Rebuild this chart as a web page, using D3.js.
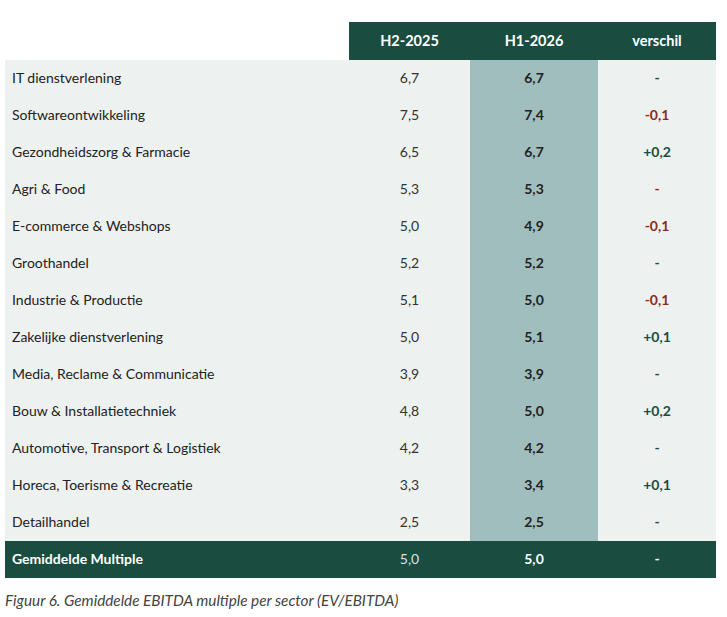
<!DOCTYPE html>
<html><head><meta charset="utf-8">
<script src="https://cdn.jsdelivr.net/npm/d3@7"></script>
<style>body{margin:0;background:#fff;}</style>
</head><body>
<script>
const sectors = ["IT dienstverlening","Softwareontwikkeling","Gezondheidszorg & Farmacie","Agri & Food","E-commerce & Webshops","Groothandel","Industrie & Productie","Zakelijke dienstverlening","Media, Reclame & Communicatie","Bouw & Installatietechniek","Automotive, Transport & Logistiek","Horeca, Toerisme & Recreatie","Detailhandel"];
const h2025 = [6.7,7.5,6.5,5.3,5.0,5.2,5.1,5.0,3.9,4.8,4.2,3.3,2.5];
const h2026 = [6.7,7.4,6.7,5.3,4.9,5.2,5.0,5.1,3.9,5.0,4.2,3.4,2.5];
const verschil = ["-","-0,1","+0,2","-","-0,1","-","-0,1","+0,1","-","+0,2","-","+0,1","-"];
const verschilColor = ["g","r","g","r","r","g","r","g","g","g","g","g","g"];
const headers = ["H2-2025","H1-2026","verschil"];
const totalLabel = "Gemiddelde Multiple";
const totalH2025 = 5.0, totalH2026 = 5.0, totalVerschil = "-";
const caption = "Figuur 6. Gemiddelde EBITDA multiple per sector (EV/EBITDA)";

const W=727,H=617, dark="#1a4d3f", bg="#edf1f0", hl="#a0bebe", red="#8b2d14";
const fmt = v => d3.format(".1f")(v).replace(".",",");
const svg = d3.select("body").append("svg").attr("width",W).attr("height",H)
  .style("font-family","'Source Sans Pro', Lato, 'Noto Sans', sans-serif");
const xEdges = [5,349,470,598,716];
const y = d3.scaleBand().domain(d3.range(sectors.length+1)).range([60,578]);
svg.append("rect").attr("x",xEdges[0]).attr("y",60).attr("width",xEdges[4]-xEdges[0]).attr("height",y(sectors.length)-60).attr("fill",bg);
svg.append("rect").attr("x",xEdges[2]).attr("y",60).attr("width",xEdges[3]-xEdges[2]).attr("height",y(sectors.length)-60).attr("fill",hl);
svg.append("rect").attr("x",xEdges[1]).attr("y",22).attr("width",xEdges[4]-xEdges[1]).attr("height",38).attr("fill",dark);
headers.forEach((h,i)=>{
  svg.append("text").attr("x",(xEdges[i+1]+xEdges[i+2])/2).attr("y",46).attr("text-anchor","middle")
   .attr("fill","#fff").attr("font-weight","bold").attr("font-size",14.5).text(h);
});
const cx = i => (xEdges[i]+xEdges[i+1])/2;
const rows = svg.selectAll("g.row").data(sectors).join("g").attr("transform",(d,i)=>`translate(0,${y(i)+y.bandwidth()/2+4})`);
rows.append("text").attr("x",12).attr("font-size",14).attr("fill","#222").text(d=>d);
rows.append("text").attr("x",cx(1)).attr("text-anchor","middle").attr("font-size",14).attr("fill","#333").text((d,i)=>fmt(h2025[i]));
rows.append("text").attr("x",cx(2)).attr("text-anchor","middle").attr("font-size",14).attr("font-weight","bold").attr("fill","#222").text((d,i)=>fmt(h2026[i]));
rows.append("text").attr("x",cx(3)).attr("text-anchor","middle").attr("font-size",14).attr("font-weight","bold")
  .attr("fill",(d,i)=>verschilColor[i]==="r"?red:dark).text((d,i)=>verschil[i]);
const n=sectors.length;
svg.append("rect").attr("x",xEdges[0]).attr("y",y(n)).attr("width",xEdges[4]-xEdges[0]).attr("height",y.bandwidth()).attr("fill",dark);
const ty=y(n)+y.bandwidth()/2+4;
svg.append("text").attr("x",12).attr("y",ty).attr("font-size",14).attr("font-weight","bold").attr("fill","#fff").text(totalLabel);
svg.append("text").attr("x",cx(1)).attr("y",ty).attr("text-anchor","middle").attr("font-size",14).attr("fill","#dde").text(fmt(totalH2025));
svg.append("text").attr("x",cx(2)).attr("y",ty).attr("text-anchor","middle").attr("font-size",14).attr("font-weight","bold").attr("fill","#fff").text(fmt(totalH2026));
svg.append("text").attr("x",cx(3)).attr("y",ty).attr("text-anchor","middle").attr("font-size",14).attr("font-weight","bold").attr("fill","#fff").text(totalVerschil);
svg.append("text").attr("x",5).attr("y",606).attr("font-size",15.3).attr("font-style","italic").attr("fill","#444").text(caption);
</script>
</body></html>
